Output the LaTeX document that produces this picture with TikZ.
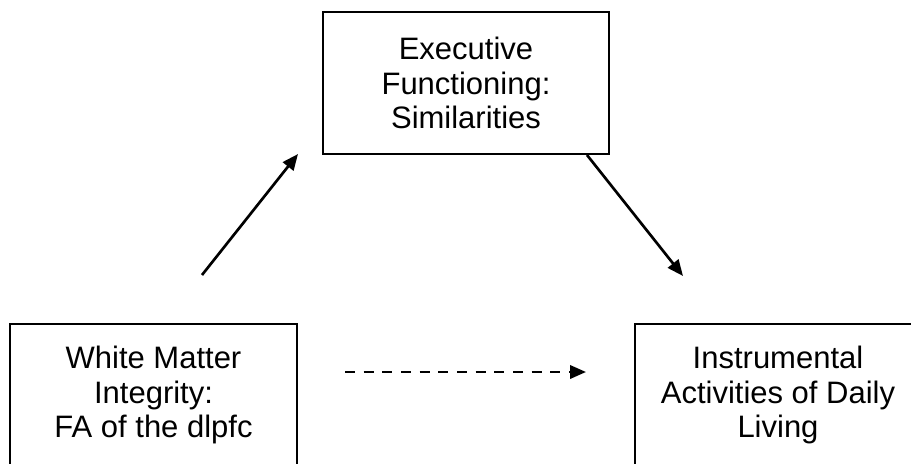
\documentclass[tikz,border=0pt]{standalone}
\usepackage{fontspec}
\setmainfont{Liberation Sans}
\usetikzlibrary{arrows.meta}
\begin{document}
\begin{tikzpicture}[x=0.75pt,y=-0.75pt,
  box/.style={draw,line width=1.7pt,minimum width=215pt,minimum height=107pt,inner sep=0pt,align=center,font=\fontsize{23.25}{26}\selectfont},
  arr/.style={line width=2pt,-{Triangle[length=12pt,width=10pt]}},
  dasharr/.style={arr,dash pattern=on 7.5pt off 6.5pt}]
\useasboundingbox (0,0) rectangle (911,464);
\clip (0,0) rectangle (911,464);
\node[box] (ef) at (466,83) {Executive\\Functioning:\\Similarities};
\node[box] (wm) at (153.5,395) {White Matter\\Integrity:\\FA of the dlpfc};
\node[box] (iadl) at (778,395) {Instrumental\\Activities of Daily\\Living};
\coordinate (a1s) at (202,275);
\coordinate (a1e) at (298,154);
\coordinate (a2s) at (587,155);
\coordinate (a2e) at (683,276);
\coordinate (a3s) at (345,372);
\coordinate (a3e) at (586,372);
\draw[arr] (a1s) -- (a1e);
\draw[arr] (a2s) -- (a2e);
\draw[dasharr] (a3s) -- (a3e);
\end{tikzpicture}
\end{document}
